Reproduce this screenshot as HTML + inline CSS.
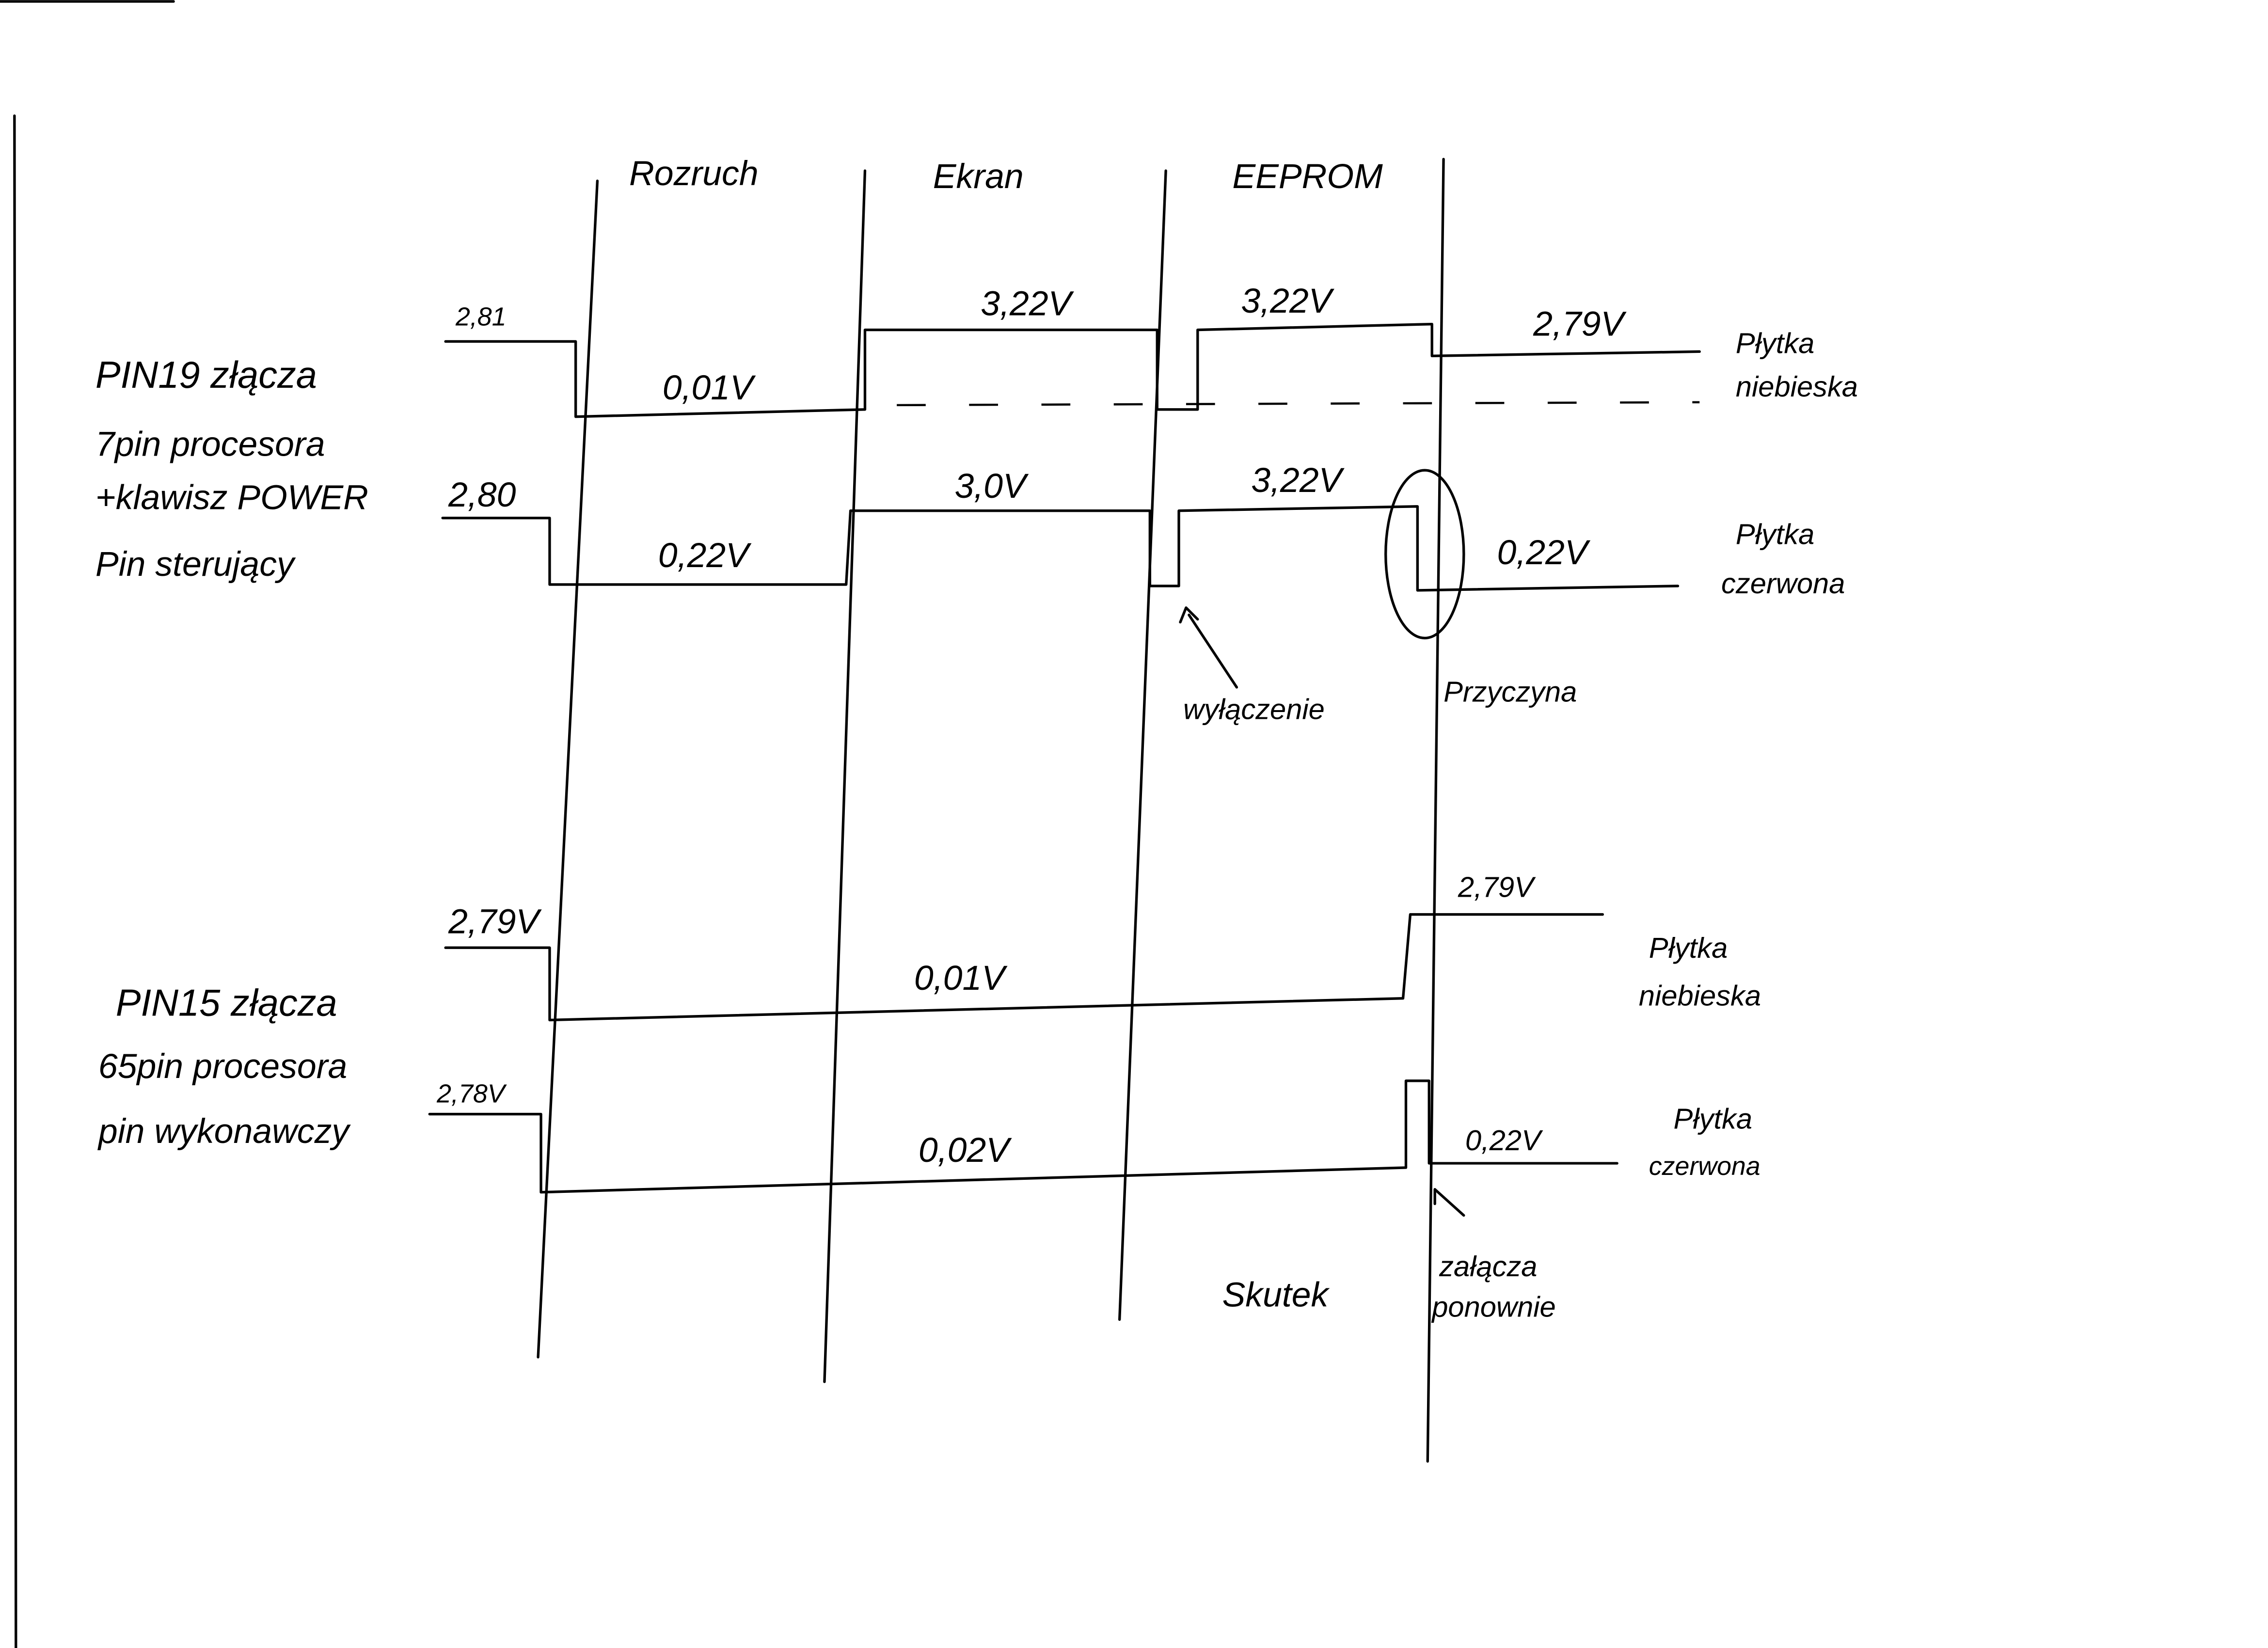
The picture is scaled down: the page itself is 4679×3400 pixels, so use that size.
<!DOCTYPE html>
<html><head><meta charset="utf-8"><style>
html,body{margin:0;padding:0;background:#fff;}
svg{display:block;}
text{font-family:"Liberation Sans",sans-serif;font-style:italic;fill:#000;}
</style></head><body>
<svg width="4679" height="3400" viewBox="0 0 1568 1139" preserveAspectRatio="none" xmlns="http://www.w3.org/2000/svg">
<rect width="1568" height="1139" fill="#fff"/>
<g stroke="#000" stroke-width="1.8" fill="none" stroke-linecap="round" stroke-linejoin="round">
<line x1="0" y1="1" x2="120" y2="1"/>
<line x1="10" y1="80" x2="11" y2="1139"/>
<line x1="413" y1="125" x2="372" y2="938"/>
<line x1="598" y1="118" x2="570" y2="955"/>
<line x1="806" y1="118" x2="774" y2="912"/>
<line x1="998" y1="110" x2="987" y2="1010"/>
<polyline points="308,236 398,236 398,288 598,283 598,228 800,228 800,283 828,283 828,228 990,224 990,246 1175,243"/>
<polyline points="306,358 380,358 380,404 585,404 588,353 795,353 795,405 815,405 815,353 980,350 980,408 1160,405"/>
<polyline points="308,655 380,655 380,705 970,690 975,632 1108,632"/>
<polyline points="297,770 374,770 374,824 972,807 972,747 988,747 988,804 1118,804"/>
<ellipse cx="985" cy="383" rx="27" ry="58"/>
<polyline points="855,475 822,425"/>
<polyline points="816,430 820,420 828,428"/>
<polyline points="1012,840 992,822 992,832"/>
</g>
<g stroke="#000" stroke-width="1.5" stroke-dasharray="20,30">
<line x1="620" y1="280" x2="1175" y2="278"/>
</g>
<g font-size="24">
<text x="435" y="128">Rozruch</text>
<text x="645" y="130">Ekran</text>
<text x="852" y="130">EEPROM</text>
<text x="315" y="225" font-size="18">2,81</text>
<text x="458" y="276">0,01V</text>
<text x="678" y="218">3,22V</text>
<text x="858" y="216">3,22V</text>
<text x="1060" y="232">2,79V</text>
<text x="1200" y="244" font-size="20">Płytka</text>
<text x="1200" y="274" font-size="20">niebieska</text>
<text x="66" y="268" font-size="26">PIN19 złącza</text>
<text x="66" y="315">7pin procesora</text>
<text x="66" y="352">+klawisz POWER</text>
<text x="66" y="398">Pin sterujący</text>
<text x="310" y="350">2,80</text>
<text x="455" y="392">0,22V</text>
<text x="660" y="344">3,0V</text>
<text x="865" y="340">3,22V</text>
<text x="1035" y="390">0,22V</text>
<text x="1200" y="376" font-size="20">Płytka</text>
<text x="1190" y="410" font-size="20">czerwona</text>
<text x="818" y="497" font-size="20">wyłączenie</text>
<text x="998" y="485" font-size="20">Przyczyna</text>
<text x="310" y="645">2,79V</text>
<text x="1008" y="620" font-size="20">2,79V</text>
<text x="632" y="684">0,01V</text>
<text x="1140" y="662" font-size="20">Płytka</text>
<text x="1133" y="695" font-size="20">niebieska</text>
<text x="80" y="702" font-size="26">PIN15 złącza</text>
<text x="68" y="745">65pin procesora</text>
<text x="68" y="790">pin wykonawczy</text>
<text x="302" y="762" font-size="18">2,78V</text>
<text x="635" y="803">0,02V</text>
<text x="1013" y="795" font-size="20">0,22V</text>
<text x="1157" y="780" font-size="20">Płytka</text>
<text x="1140" y="812" font-size="18">czerwona</text>
<text x="845" y="903">Skutek</text>
<text x="995" y="882" font-size="20">załącza</text>
<text x="990" y="910" font-size="20">ponownie</text>
</g>
</svg>
</body></html>
